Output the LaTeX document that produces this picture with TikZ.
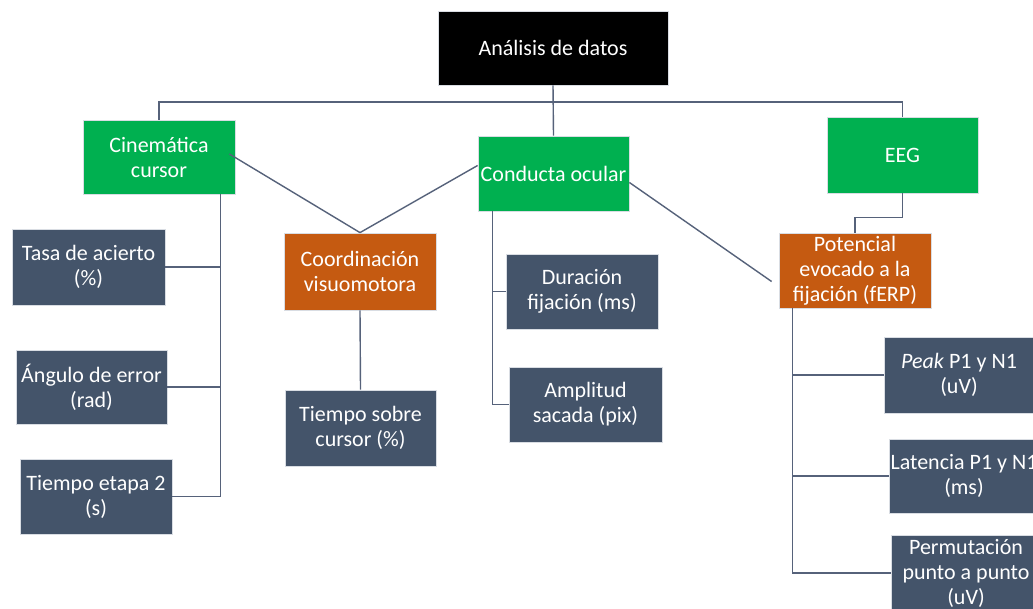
\documentclass[tikz,border=0pt]{standalone}
\usepackage{fontspec}
\setmainfont{Carlito}
\definecolor{cgreen}{HTML}{00B050}
\definecolor{corange}{HTML}{C55A11}
\definecolor{cslate}{HTML}{44546A}
\definecolor{cline}{HTML}{56627A}
\definecolor{cedge}{HTML}{D9DDE3}
\begin{document}
\begin{tikzpicture}[x=1pt,y=-1pt,
  box/.style={draw=cedge, line width=0.8pt, text=white, align=center, inner sep=0pt,
              font=\fontsize{22}{25}\selectfont},
  rootbox/.style={box, fill=black},
  greenbox/.style={box, fill=cgreen},
  orangebox/.style={box, fill=corange},
  slatebox/.style={box, fill=cslate},
  conn/.style={draw=cline, line width=1.4pt}]
\useasboundingbox (0,0) rectangle (1033,609);
\clip (0,0) rectangle (1033,609);
\fill[white] (0,0) rectangle (1033,609);

% nodes
\node[rootbox, minimum width=230pt, minimum height=74pt] (root) at (553,48) {Análisis de datos};
\node[greenbox, minimum width=152pt, minimum height=74pt] (cin) at (159,157) {Cinemática\\cursor};
\node[greenbox, minimum width=151pt, minimum height=75pt] (cond) at (553.5,173.5) {Conducta ocular};
\node[greenbox, minimum width=151pt, minimum height=76pt] (eeg) at (902.5,155) {EEG};
\node[orangebox, minimum width=152pt, minimum height=77pt] (coord) at (360,271.5) {Coordinación\\visuomotora};
\node[slatebox, minimum width=151pt, minimum height=76pt] (tsc) at (360.5,428) {Tiempo sobre\\cursor (\%)};
\node[slatebox, minimum width=153pt, minimum height=76pt] (tasa) at (88.5,267) {Tasa de acierto\\(\%)};
\node[slatebox, minimum width=151pt, minimum height=74pt] (ang) at (91.5,387) {Ángulo de error\\(rad)};
\node[slatebox, minimum width=152pt, minimum height=75pt] (tiempo2) at (96,496.5) {Tiempo etapa 2\\(s)};
\node[slatebox, minimum width=152pt, minimum height=75pt] (dur) at (582,291.5) {Duración\\fijación (ms)};
\node[slatebox, minimum width=153pt, minimum height=75pt] (amp) at (585.5,404.5) {Amplitud\\sacada (pix)};
\node[orangebox, minimum width=152pt, minimum height=75pt] (pot) at (855,270.5) {Potencial\\evocado a la\\fijación (fERP)};
\node[slatebox, minimum width=150pt, minimum height=76pt] (peak) at (959,375) {\textit{Peak} P1 y N1\\(uV)};
\node[slatebox, minimum width=150pt, minimum height=74pt] (lat) at (964,476) {Latencia P1 y N1\\(ms)};
\node[slatebox, minimum width=150pt, minimum height=75pt] (perm) at (966,573) {Permutación\\punto a punto\\(uV)};

% top bus
\coordinate (bus) at (553,102);
\draw[conn] (root.south) -- (cond.north);
\draw[conn] (cin.north) |- (bus) -| (eeg.north);

% cinematica branch
\draw[conn] ([xshift=-15pt]cin.south east) coordinate (cb) |- (tiempo2.east);
\draw[conn] (tasa.east) -- (tasa.east -| cb);
\draw[conn] (ang.east) -- (ang.east -| cb);

% coordination
\draw[conn] ([xshift=-6pt,yshift=3pt]cin.east) -- (coord.north);
\draw[conn] ([yshift=8pt]cond.west) -- (coord.north);
\draw[conn] (coord.south) -- (tsc.north);

% conducta ocular branch
\draw[conn] ([xshift=15pt]cond.south west) coordinate (db) |- (amp.west);
\draw[conn] (dur.west) -- (dur.west -| db);
\coordinate (potin) at ([xshift=-7pt,yshift=-11pt]pot.west);
\draw[conn] ([yshift=-9pt]cond.east) -- (potin);

% EEG branch
\draw[conn] (eeg.south) -- ++(0,24) -| (pot.north);
\draw[conn] ([xshift=14pt]pot.south west) coordinate (pb) |- (perm.west);
\draw[conn] (peak.west) -- (peak.west -| pb);
\draw[conn] (lat.west) -- (lat.west -| pb);
\end{tikzpicture}
\end{document}
